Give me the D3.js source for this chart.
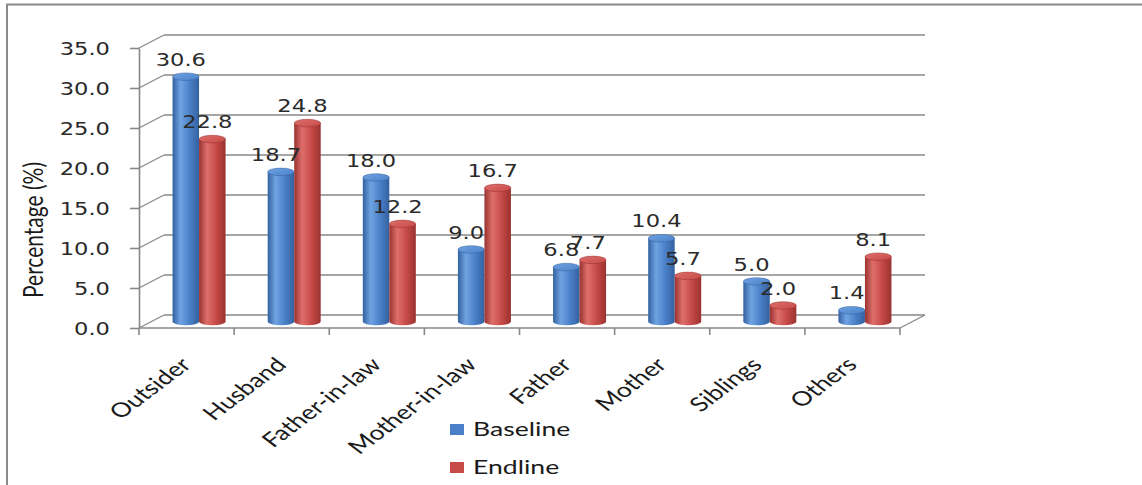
<!DOCTYPE html>
<html>
<head>
<meta charset="utf-8">
<script src="https://cdn.jsdelivr.net/npm/d3@7"></script>
<style>
  html, body { margin: 0; padding: 0; background: #fff; }
  svg { display: block; }
</style>
</head>
<body>
<svg id="chart" width="1142" height="485"></svg>
<script>
// Perpetrator categories and percentages for the two survey rounds
const categories = ["Outsider", "Husband", "Father-in-law", "Mother-in-law", "Father", "Mother", "Siblings", "Others"];
const baselineValues = [30.6, 18.7, 18.0, 9.0, 6.8, 10.4, 5.0, 1.4];
const endlineValues = [22.8, 24.8, 12.2, 16.7, 7.7, 5.7, 2.0, 8.1];
const seriesNames = ["Baseline", "Endline"];
const yTickValues = [0, 5, 10, 15, 20, 25, 30, 35];
const yTitle = "Percentage (%)";

const svg = d3.select("#chart");
const SX = 1.33;                 // horizontal stretch applied to text
const depthX = 25, depthY = -13; // 3D depth offset of the back wall

const x = d3.scaleBand().domain(categories).range([139, 900]);
const y = d3.scaleLinear().domain([0, 35]).range([328, 48]);
const inner = d3.scaleBand().domain(seriesNames).range([-26.5, 26.5]);

const palette = {
  Baseline: { dark: "#34619f", mid: "#4a80c8", light: "#6fa3e2" },
  Endline:  { dark: "#993230", mid: "#c64a47", light: "#de6f6b" }
};

// outer frame
svg.append("rect")
  .attr("x", 7).attr("y", 4.5).attr("width", 1160).attr("height", 500)
  .attr("fill", "#fff").attr("stroke", "#8a8a8a").attr("stroke-width", 2);

// gradients for cylinder bodies and caps
const defs = svg.append("defs");
seriesNames.forEach(s => {
  const c = palette[s];
  const g = defs.append("linearGradient").attr("id", "grad-" + s)
    .attr("x1", "0").attr("x2", "1").attr("y1", "0").attr("y2", "0");
  g.append("stop").attr("offset", "0%").attr("stop-color", c.dark);
  g.append("stop").attr("offset", "30%").attr("stop-color", c.light);
  g.append("stop").attr("offset", "65%").attr("stop-color", c.mid);
  g.append("stop").attr("offset", "100%").attr("stop-color", c.dark);
  const t = defs.append("linearGradient").attr("id", "top-" + s)
    .attr("x1", "0").attr("x2", "1").attr("y1", "0").attr("y2", "1");
  t.append("stop").attr("offset", "0%").attr("stop-color", c.light);
  t.append("stop").attr("offset", "100%").attr("stop-color", c.mid);
});

const x0 = x.range()[0], x1 = x.range()[1];
const gridColor = "#888";

// back wall gridlines and side-wall diagonals
const grid = svg.append("g");
yTickValues.forEach(v => {
  grid.append("line")
    .attr("x1", x0 + depthX).attr("x2", x1 + depthX)
    .attr("y1", y(v) + depthY).attr("y2", y(v) + depthY)
    .attr("stroke", gridColor).attr("stroke-width", 1.6);
  grid.append("line")
    .attr("x1", x0).attr("x2", x0 + depthX)
    .attr("y1", y(v)).attr("y2", y(v) + depthY)
    .attr("stroke", gridColor).attr("stroke-width", 1.3);
});

// floor: front edge and right diagonal
grid.append("line")
  .attr("x1", x0).attr("x2", x1).attr("y1", y(0)).attr("y2", y(0))
  .attr("stroke", gridColor).attr("stroke-width", 1.6);
grid.append("line")
  .attr("x1", x1).attr("x2", x1 + depthX).attr("y1", y(0)).attr("y2", y(0) + depthY)
  .attr("stroke", gridColor).attr("stroke-width", 1.3);

// category tick marks at band boundaries
const boundaries = categories.map(c => x(c)).concat([x1]);
grid.selectAll(".ctick").data(boundaries).join("line")
  .attr("x1", d => d).attr("x2", d => d)
  .attr("y1", y(0)).attr("y2", y(0) + 7)
  .attr("stroke", gridColor).attr("stroke-width", 1.6);

// value axis
const yAxis = svg.append("g")
  .attr("transform", `translate(${x0},0)`)
  .call(d3.axisLeft(y).tickValues(yTickValues).tickFormat(d3.format(".1f")).tickSize(9).tickSizeOuter(0));
yAxis.select(".domain").attr("stroke", gridColor).attr("stroke-width", 1.6);
yAxis.selectAll(".tick line").attr("stroke", gridColor).attr("stroke-width", 1.6);
yAxis.selectAll(".tick text")
  .attr("x", null).attr("dy", null)
  .attr("transform", `translate(-29,6) scale(${SX},1)`)
  .attr("text-anchor", "end")
  .attr("font-family", "DejaVu Sans").attr("font-size", 17).attr("fill", "#2a2a2a");

// axis title
svg.append("text")
  .attr("transform", `translate(43,230) scale(${SX},1) rotate(-90)`)
  .attr("text-anchor", "middle")
  .attr("font-family", "Lato").attr("font-size", 21).attr("fill", "#1a1a1a")
  .text(yTitle);

// cylinders
const rx = inner.bandwidth() / 2, ry = 3.8;
const baseY = y(0) + depthY / 2;
const rows = [];
categories.forEach((c, i) => {
  [[seriesNames[0], baselineValues[i]], [seriesNames[1], endlineValues[i]]].forEach(([s, v]) => {
    const cx = x(c) + x.bandwidth() / 2 + depthX / 2 + inner(s) + rx;
    rows.push({ c, s, v, cx, top: baseY - (y(0) - y(v)) });
  });
});

const bars = svg.append("g").selectAll("g").data(rows).join("g");
bars.append("path")
  .attr("d", d => `M${d.cx - rx},${d.top} L${d.cx - rx},${baseY} A${rx},${ry} 0 0 0 ${d.cx + rx},${baseY} L${d.cx + rx},${d.top} Z`)
  .attr("fill", d => `url(#grad-${d.s})`);
bars.append("ellipse")
  .attr("cx", d => d.cx).attr("cy", d => d.top)
  .attr("rx", rx).attr("ry", ry)
  .attr("fill", d => `url(#top-${d.s})`)
  .attr("stroke", d => palette[d.s].dark).attr("stroke-width", 0.5);

// value labels
svg.append("g").selectAll("text").data(rows).join("text")
  .attr("transform", d => `translate(${d.cx - 5},${d.top - 11}) scale(${SX},1)`)
  .attr("text-anchor", "middle")
  .attr("font-family", "DejaVu Sans").attr("font-size", 17).attr("fill", "#2a2a2a")
  .text(d => d3.format(".1f")(d.v));

// category labels
svg.append("g").selectAll("text").data(categories).join("text")
  .attr("transform", d => `translate(${x(d) + x.bandwidth() / 2 + 6},${y(0) + 38}) scale(${SX},1) rotate(-45)`)
  .attr("text-anchor", "end")
  .attr("font-family", "Lato").attr("font-size", 20).attr("fill", "#1a1a1a")
  .text(d => d);

// legend
const legend = svg.append("g").selectAll("g").data(seriesNames).join("g")
  .attr("transform", (d, i) => `translate(450,${424 + i * 38})`);
legend.append("rect")
  .attr("width", 14).attr("height", 11)
  .attr("fill", d => palette[d].mid);
legend.append("text")
  .attr("transform", `translate(23,12) scale(${SX},1)`)
  .attr("font-family", "Lato").attr("font-size", 20).attr("fill", "#1a1a1a")
  .text(d => d);
</script>
</body>
</html>
